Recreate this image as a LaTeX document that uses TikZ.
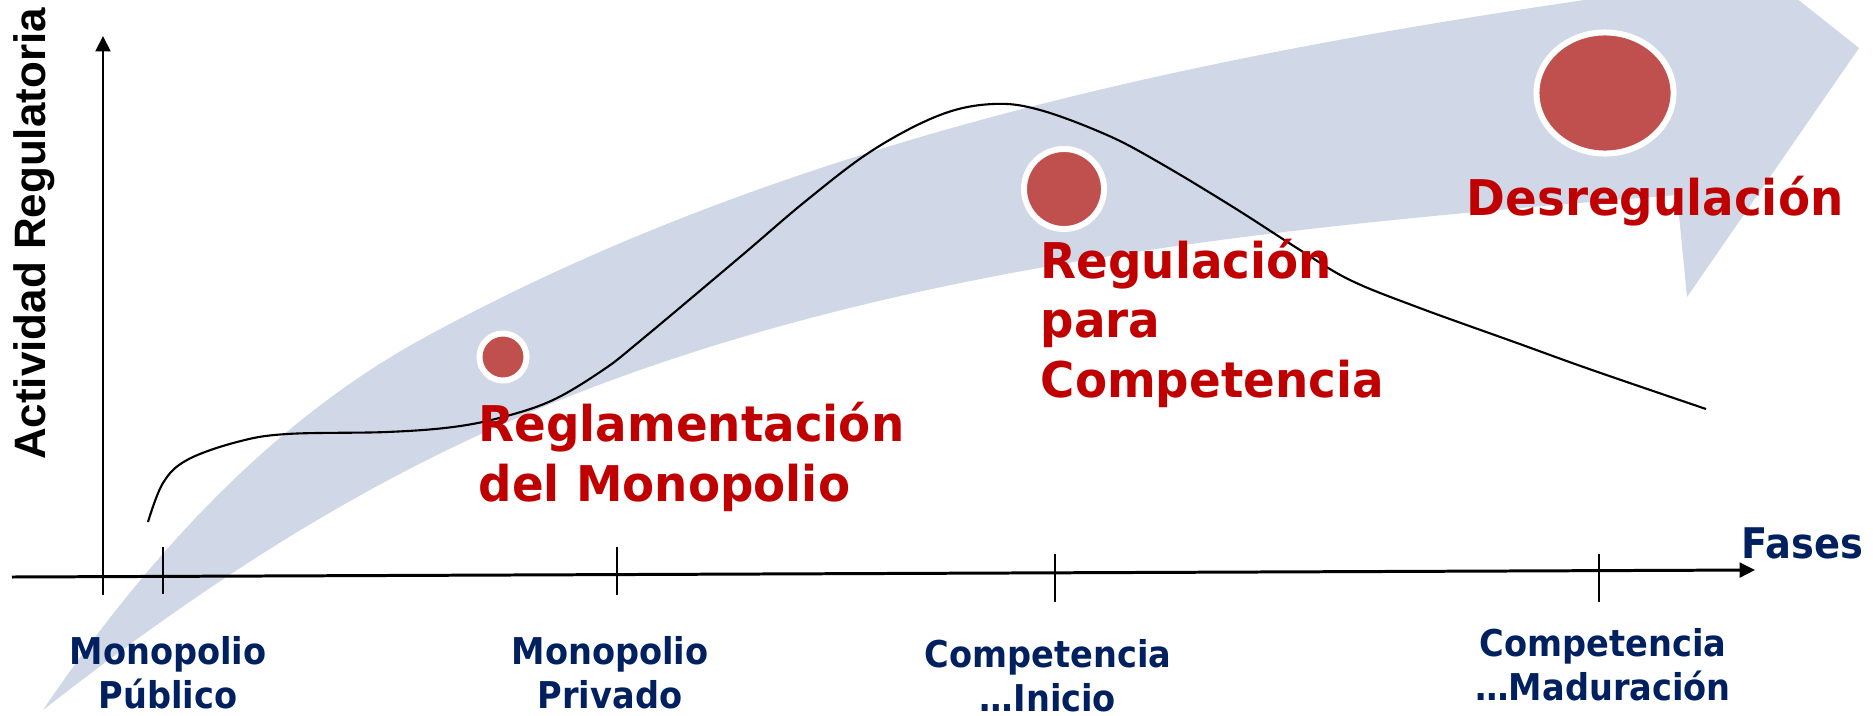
\documentclass[tikz,border=0pt]{standalone}
\usepackage{fontspec}
\setmainfont{DejaVu Sans}
\newfontfamily\phasefont{DejaVu Sans}[FakeStretch=0.91]
\newfontfamily\stagefont{DejaVu Sans}[FakeStretch=0.95]
\newfontfamily\axisfont{Liberation Sans}
\usetikzlibrary{
    arrows.meta,
    shapes.geometric,
}
\definecolor{bandblue}{HTML}{D0D8E8}
\definecolor{dotred}{HTML}{C0504D}
\definecolor{stagered}{HTML}{C00000}
\definecolor{phasenavy}{HTML}{002060}
\tikzset{
    axis/.style={line width=0.85pt, -{Triangle[length=4.4pt, width=4.2pt]}},
    phasetick/.style={line width=0.7pt},
    phase/.style={font=\phasefont\bfseries\fontsize{10.5}{12.3}\selectfont, text=phasenavy, align=center, inner sep=0pt},
    stage/.style={font=\stagefont\bfseries\fontsize{14}{16.8}\selectfont, text=stagered, align=left, inner sep=0pt},
    dot/.style={circle, fill=dotred, draw=white, line width=1.7pt, inner sep=0pt},
}

\begin{document}
\begin{tikzpicture}[x=0.01cm, y=-0.01cm]
    \useasboundingbox (0,0) rectangle (1873,715);
    % banda (flecha de fondo)
    \begin{scope}
        \clip (0,0) rectangle (1873,715);
        \fill[bandblue] (43,710) .. controls (142,564) and (266,425) .. (420,340)
            .. controls (791,136) and (1221,51) .. (1640,-8)
            -- (1655,-114) -- (1859,48) -- (1687,297) -- (1677,195)
            .. controls (1328,223) and (970,254.5) .. (640,370)
            .. controls (423,446) and (248,550) .. (43,710) -- cycle;
    \end{scope}
    % ejes
    \coordinate (origin) at (103,595);
    \coordinate (ytop) at (103,36);
    \coordinate (xstart) at (12,577);
    \coordinate (xend) at (1755,570);
    \draw[axis] (origin) -- (ytop);
    \draw[axis] (xstart) -- (xend);
    \foreach \x/\top/\bot in {163/547/594, 617/547/595, 1055/554/602, 1599/554/602}
        \draw[phasetick] (\x,\top) -- (\x,\bot);
    % curva de actividad regulatoria
    \draw[line width=0.6pt] plot[smooth, tension=0.6] coordinates {(148,522) (163,483) (187,460) (237,442) (287,434) (387,432) (453,427) (503,417) (553,400) (603,370) (640,341) (740,257) (807,200) (873,150) (940,115) (993,104) (1040,110) (1107,135) (1160,163) (1233,207) (1300,250) (1350,280) (1417,307) (1517,343) (1592,370) (1706,409)};
    % etapas
    \node[dot, minimum size=0.47cm] (dotmono) at (503,357) {};
    \node[dot, minimum size=0.80cm] (dotcomp) at (1064,189) {};
    \node[dot, ellipse, minimum width=1.37cm, minimum height=1.21cm] (dotdesr) at (1605,93) {};
    \node[stage, anchor=base west] (reglam) at (478,501) {Reglamentación\\del Monopolio};
    \node[stage, anchor=base west] (regcomp) at (1040,397) {Regulación\\para\\Competencia};
    \node[stage, anchor=base west] (desreg) at (1466,215) {Desregulación};
    % fases
    \node[phase, anchor=base] (publico) at (168,708) {Monopolio\\Público};
    \node[phase, anchor=base] (privado) at (610,708) {Monopolio\\Privado};
    \node[phase, anchor=base] (inicio) at (1048,711) {Competencia\\…Inicio};
    \node[phase, anchor=base] (madurez) at (1603,700) {Competencia\\…Maduración};
    \node[phase, anchor=base west, font=\phasefont\bfseries\fontsize{12}{14}\selectfont] (fases) at (1741,558) {Fases};
    \node[font=\axisfont\bfseries\fontsize{12.5}{15}\selectfont, rotate=90, anchor=base, inner sep=0pt] (actividad) at (45,234) {Actividad Regulatoria};
\end{tikzpicture}
\end{document}
